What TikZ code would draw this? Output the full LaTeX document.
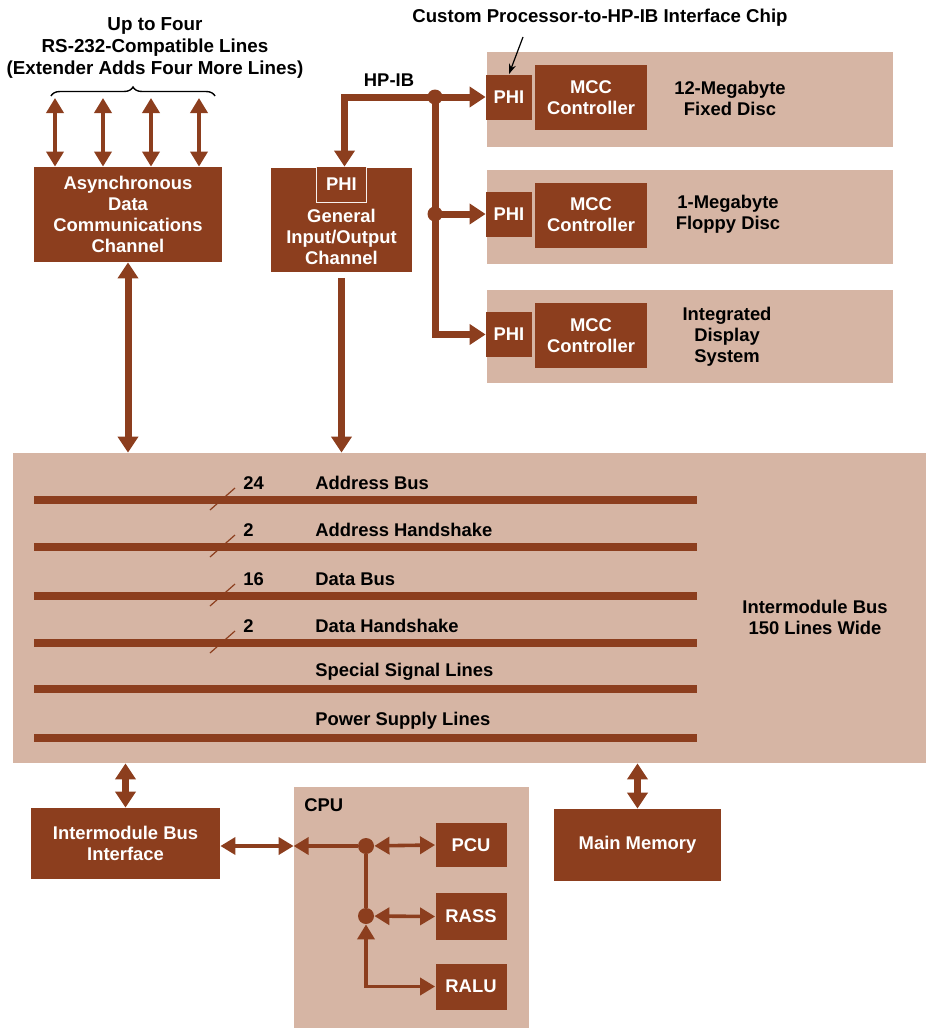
\documentclass[tikz,border=0pt]{standalone}
\usepackage{fontspec}
\setmainfont{Liberation Sans}
\usetikzlibrary{positioning,arrows.meta,decorations.pathreplacing}
\definecolor{brn}{RGB}{140,62,30}
\definecolor{pnl}{RGB}{214,181,164}

\begin{document}
\begin{tikzpicture}[x=0.5pt,y=-0.5pt,
font=\fontsize{9.2}{10.5}\selectfont\bfseries,
box/.style={rectangle, fill=brn, text=white, align=center, inner sep=0pt},
panel/.style={rectangle, fill=pnl, inner sep=0pt},
lbl/.style={align=center, inner sep=0pt},
dot/.style={circle, fill=brn, inner sep=0pt, minimum size=7.5pt},
fat/.style={draw=brn, line width=3.5pt, >={Triangle[width=10pt,length=8pt]}},
slim/.style={draw=brn, line width=1.8pt, >={Triangle[width=8.5pt,length=7.5pt]}},
busline/.style={draw=brn, line width=4pt},
]
\useasboundingbox (0,0) rectangle (926,1028);

% panels
\node[panel, minimum width=203pt, minimum height=47.5pt] (p1) at (690,99.5) {};
\node[panel, minimum width=203pt, minimum height=47pt] (p2) at (690,217) {};
\node[panel, minimum width=203pt, minimum height=46.5pt] (p3) at (690,336.5) {};
\node[panel, minimum width=456.5pt, minimum height=155pt] (imb) at (469.5,608) {};
\node[panel, minimum width=117.5pt, minimum height=120.5pt] (cpu) at (411.5,907.5) {};

% top left
\node[lbl, font=\fontsize{9.4}{11}\selectfont\bfseries] (title) at (155,48)
  {Up to Four\\RS-232-Compatible Lines\\(Extender Adds Four More Lines)};
\draw[decorate, decoration={brace, amplitude=4.5pt}, line width=0.7pt] (51,96) -- (215,96);
\node[box, minimum width=94pt, minimum height=47.5pt] (adc) at (128,214.5)
  {Asynchronous\\Data\\Communications\\Channel};
\foreach \x in {55,103,151,199}
  \draw[slim,<->] (\x,98) -- (\x,0 |- adc.north);

% general i/o
\node[box, minimum width=70.5pt, minimum height=52pt] (gio) at (341.5,219.5) {};
\node[box, minimum width=24.5pt, minimum height=17.5pt] (gphi) at (341.5,184.5) {PHI};
\draw[white!80!pnl, line width=0.8pt] (gphi.north west) |- (gphi.south east) -- (gphi.north east);
\node[lbl, text=white] (giot) at (341.5,237) {General\\Input/Output\\Channel};

% disc / display side
\node[lbl, font=\fontsize{9.3}{11}\selectfont\bfseries] (chip) at (600,18)
  {Custom Processor-to-HP-IB Interface Chip};
\node[lbl] (hpib) at (389,80) {HP-IB};
\node[box, minimum width=23pt, minimum height=22.5pt] (phi1) at (509,97) {PHI};
\node[box, minimum width=56pt, minimum height=32.5pt] (mcc1) at (591,97.5) {MCC\\Controller};
\node[lbl] (dev1) at (730,98) {12-Megabyte\\Fixed Disc};
\node[box, minimum width=23pt, minimum height=22.5pt] (phi2) at (509,214) {PHI};
\node[box, minimum width=56pt, minimum height=32.5pt] (mcc2) at (591,215) {MCC\\Controller};
\node[lbl] (dev2) at (728,214) {1-Megabyte\\Floppy Disc};
\node[box, minimum width=23pt, minimum height=22.5pt] (phi3) at (509,334.5) {PHI};
\node[box, minimum width=56pt, minimum height=32.5pt] (mcc3) at (591,335.5) {MCC\\Controller};
\node[lbl] (dev3) at (727,337) {Integrated\\Display\\System};

\node[dot] (j1) at (435,97) {};
\node[dot] (j2) at (435,214) {};
\draw[fat,->] (j1.center) -- (phi1.west);
\draw[fat,->] (j1.center) -| ([xshift=1.5pt]gphi.north);
\draw[fat,->] (j1.center) |- (phi3.west);
\draw[fat,->] (j2.center) -- (phi2.west);
\coordinate (ctail) at (523,37);
\draw[line width=0.6pt, -{Stealth[length=5pt,width=3.5pt]}] (ctail) -- (phi1.north);

% down to the bus
\draw[fat,<->] (adc.south) -- (adc.south |- imb.north);
\draw[fat,->] ([yshift=-3pt]gio.south) -- (gio.south |- imb.north);

% intermodule bus
\foreach \y/\t in {500/Address Bus, 547/Address Handshake, 596/Data Bus,
                   643/Data Handshake, 689/Special Signal Lines, 738/Power Supply Lines}
{
  \draw[busline] (34,\y) -- (697,\y);
  \node[lbl, anchor=west] at (315,\y-17) {\t};
}
\foreach \y/\n in {500/24, 547/2, 596/16, 643/2}
{
  \draw[line width=0.6pt, brn] (210,\y+10) -- (235,\y-12);
  \node[lbl, anchor=west] at (243,\y-17) {\n};
}
\node[lbl] (imbt) at (815,617) {Intermodule Bus\\150 Lines Wide};

% bottom row
\node[box, minimum width=94.5pt, minimum height=35.5pt] (ibi) at (125.5,843.5)
  {Intermodule Bus\\Interface};
\node[box, minimum width=83.5pt, minimum height=36pt] (mem) at (637.5,845) {Main Memory};
\draw[fat,<->] (imb.south -| ibi.north) -- (ibi.north);
\draw[fat,<->] (imb.south -| mem.north) -- (mem.north);

% cpu
\node[lbl, anchor=west] (cput) at (304,805) {CPU};
\node[box, minimum width=35.5pt, minimum height=22pt] (pcu) at (471,845) {PCU};
\node[box, minimum width=35.5pt, minimum height=23.5pt] (rass) at (471,916.5) {RASS};
\node[box, minimum width=35.5pt, minimum height=23pt] (ralu) at (471,986.5) {RALU};
\node[dot, minimum size=8pt] (d1) at (366,846) {};
\node[dot, minimum size=8pt] (d2) at (366,916) {};
\draw[slim] (d1) -- (d2);
\draw[slim,<->] (ibi.east |- d1) -- (cpu.west |- d1);
\draw[slim,->] (d1) -- (cpu.west |- d1);
\draw[slim,<->] (d1) -- (pcu.west);
\draw[slim,<->] (d2) -- (rass.west);
\draw[slim,<->] (d2.south) |- (ralu.west);
\end{tikzpicture}
\end{document}
